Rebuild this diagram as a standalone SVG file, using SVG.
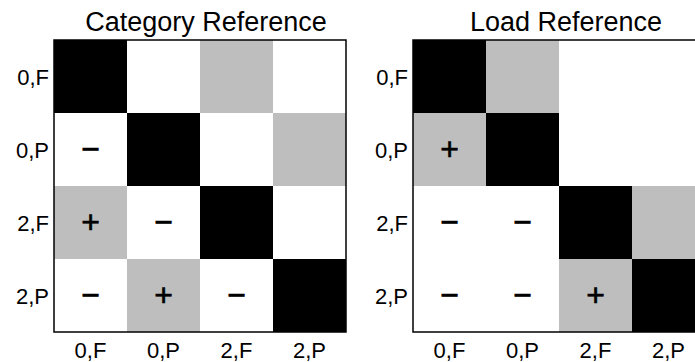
<svg xmlns="http://www.w3.org/2000/svg" width="695" height="362" viewBox="0 0 695 362">
<style>
text{font-family:"Liberation Sans",Arial,sans-serif;fill:#000}
.t{font-size:27px;text-anchor:middle}
.r{font-size:22px;text-anchor:end}
.c{font-size:22px;text-anchor:middle}
.s{font-size:32px;text-anchor:middle;stroke:#000;stroke-width:0.6}
.k{fill:#000}
.g{fill:#bebebe}
.w{fill:#fff}
.f{fill:none;stroke:#000;stroke-width:1.5}
</style>
<rect width="695" height="362" fill="#fff"/>
<g id="category-reference">
<text class="t" x="206" y="31">Category Reference</text>
<rect class="k" x="54" y="40" width="73" height="73"/>
<rect class="g" x="200" y="40" width="73" height="73"/>
<rect class="k" x="127" y="113" width="73" height="73"/>
<rect class="g" x="273" y="113" width="73" height="73"/>
<rect class="g" x="54" y="186" width="73" height="73"/>
<rect class="k" x="200" y="186" width="73" height="73"/>
<rect class="g" x="127" y="259" width="73" height="73"/>
<rect class="k" x="273" y="259" width="73" height="73"/>
<rect class="f" x="54" y="40" width="292" height="292"/>
<text class="s" x="90.5" y="160">−</text>
<text class="s" x="90.5" y="233">+</text>
<text class="s" x="163.5" y="233">−</text>
<text class="s" x="90.5" y="306">−</text>
<text class="s" x="163.5" y="306">+</text>
<text class="s" x="236.5" y="306">−</text>
<text class="r" x="49" y="85">0,F</text>
<text class="r" x="49" y="158">0,P</text>
<text class="r" x="49" y="231">2,F</text>
<text class="r" x="49" y="304">2,P</text>
<text class="c" x="90.5" y="358">0,F</text>
<text class="c" x="163.5" y="358">0,P</text>
<text class="c" x="236.5" y="358">2,F</text>
<text class="c" x="309.5" y="358">2,P</text>
</g>
<g id="load-reference">
<text class="t" x="566" y="31">Load Reference</text>
<rect class="k" x="413" y="40" width="73" height="73"/>
<rect class="g" x="486" y="40" width="73" height="73"/>
<rect class="g" x="413" y="113" width="73" height="73"/>
<rect class="k" x="486" y="113" width="73" height="73"/>
<rect class="k" x="559" y="186" width="73" height="73"/>
<rect class="g" x="632" y="186" width="73" height="73"/>
<rect class="g" x="559" y="259" width="73" height="73"/>
<rect class="k" x="632" y="259" width="73" height="73"/>
<rect class="f" x="413" y="40" width="292" height="292"/>
<text class="s" x="449.5" y="160">+</text>
<text class="s" x="449.5" y="233">−</text>
<text class="s" x="522.5" y="233">−</text>
<text class="s" x="449.5" y="306">−</text>
<text class="s" x="522.5" y="306">−</text>
<text class="s" x="595.5" y="306">+</text>
<text class="r" x="408" y="85">0,F</text>
<text class="r" x="408" y="158">0,P</text>
<text class="r" x="408" y="231">2,F</text>
<text class="r" x="408" y="304">2,P</text>
<text class="c" x="449.5" y="358">0,F</text>
<text class="c" x="522.5" y="358">0,P</text>
<text class="c" x="595.5" y="358">2,F</text>
<text class="c" x="668.5" y="358">2,P</text>
</g>
</svg>
